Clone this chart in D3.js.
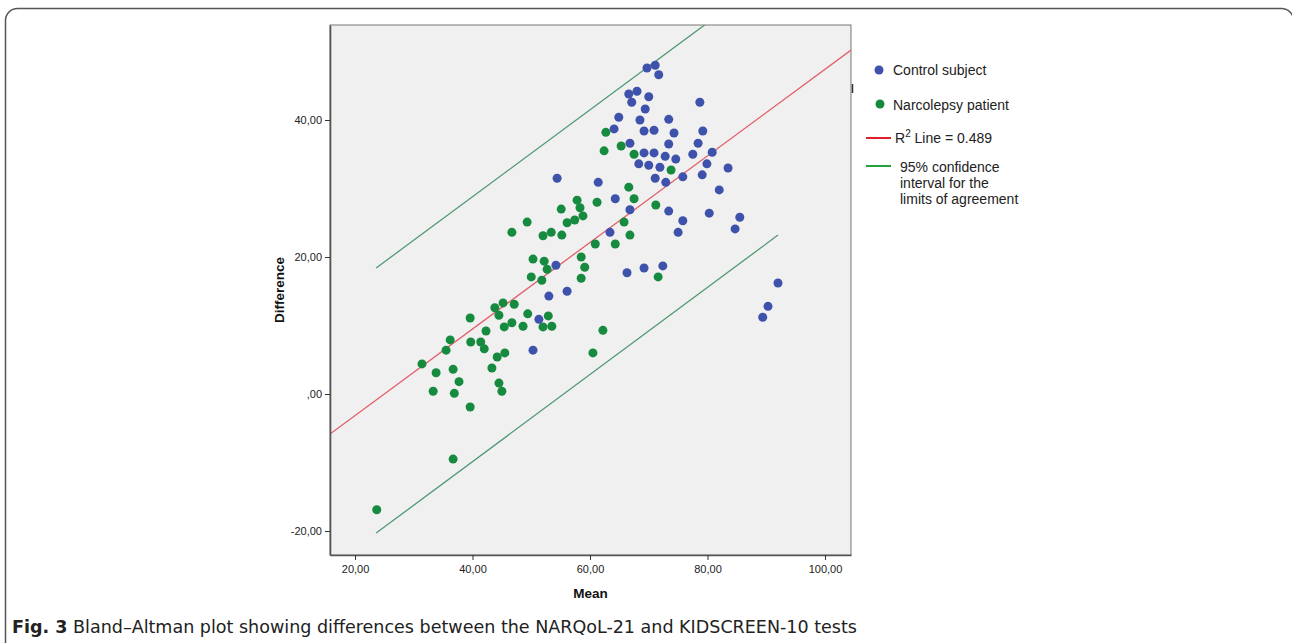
<!doctype html>
<html lang="en">
<head>
  <meta charset="utf-8">
  <title>Bland-Altman plot</title>
  <style>
  body { margin: 0; background: #fff; }
  svg { display: block; }
  .tick text { font-family: "Liberation Sans", Arial, sans-serif; font-size: 11px; fill: #222; }
  .axis-title { font-family: "Liberation Sans", Arial, sans-serif; font-size: 13.5px; font-weight: bold; fill: #111; }
  .legend text { font-family: "Liberation Sans", Arial, sans-serif; font-size: 14px; fill: #222; }
  </style>
</head>
<body>
  <div id="chart"></div>
  <script src="https://cdn.jsdelivr.net/npm/d3@7"></script>
  <script>
    // values: mean (x) and difference (y)
    var controlMean = [50.3, 51.3, 53.0, 56.1, 54.2, 54.4, 61.4, 63.4, 64.3, 66.8, 66.3, 69.2, 72.4,
      69.7, 71.1, 71.7, 66.6, 68.0, 67.1, 70.0, 78.7, 69.4, 64.9, 68.5, 73.4, 64.1, 69.2, 70.9, 74.3,
      79.2, 66.8, 73.4, 78.4, 69.2, 70.9, 72.8, 74.6, 77.5, 80.8, 68.3, 70.0, 71.9, 79.9, 83.5, 71.1,
      72.9, 75.8, 79.1, 82.0, 73.4, 80.3, 85.5, 75.8, 75.0, 84.7, 92.0, 90.3, 89.4];
    var controlDiff = [6.4, 10.9, 14.3, 15.0, 18.8, 31.5, 30.9, 23.6, 28.5, 26.9, 17.7, 18.4, 18.7,
      47.6, 48.0, 46.6, 43.8, 44.2, 42.6, 43.4, 42.6, 41.6, 40.4, 40.0, 40.1, 38.7, 38.4, 38.5, 38.1,
      38.4, 36.6, 36.5, 36.6, 35.2, 35.2, 34.7, 34.3, 35.0, 35.3, 33.6, 33.4, 33.1, 33.6, 33.0, 31.5,
      30.9, 31.7, 32.0, 29.8, 26.7, 26.4, 25.8, 25.3, 23.6, 24.1, 16.2, 12.8, 11.2];

    var patientMean = [23.7, 36.7, 31.4, 33.8, 33.3, 36.7, 36.9, 37.7, 39.6, 35.5, 36.2, 39.7, 41.4,
      42.0, 43.3, 44.2, 45.5, 44.5, 45.0, 39.6, 42.3, 43.8, 45.2, 47.1, 44.5, 49.4, 52.9, 46.7, 48.6,
      45.4, 52.0, 53.5, 62.2, 60.5, 46.7, 49.3, 52.0, 53.4, 55.2, 55.1, 56.1, 57.4, 58.8, 57.8, 58.3,
      61.2, 50.3, 52.2, 52.7, 50.0, 51.8, 58.5, 59.1, 58.5, 60.9, 64.3, 66.8, 65.8, 66.6, 67.5, 71.2,
      73.8, 62.7, 62.4, 65.3, 67.5, 71.6];
    var patientDiff = [-16.9, -9.5, 4.4, 3.1, 0.4, 3.6, 0.1, 1.8, -1.9, 6.4, 7.9, 7.6, 7.6,
      6.6, 3.8, 5.4, 6.0, 1.6, 0.4, 11.1, 9.2, 12.6, 13.3, 13.1, 11.5, 11.7, 11.4, 10.4, 9.9,
      9.8, 9.8, 9.9, 9.3, 6.0, 23.6, 25.1, 23.1, 23.6, 23.2, 27.0, 25.0, 25.4, 26.0, 28.3, 27.2,
      28.0, 19.7, 19.4, 18.2, 17.1, 16.6, 20.0, 18.5, 16.9, 21.9, 21.9, 23.2, 25.1, 30.2, 28.5, 27.6,
      32.7, 38.2, 35.5, 36.2, 35.0, 17.1];

    // fit line and limits of agreement (end points)
    var fitX = [15.74, 104.43];
    var fitY = [-5.84, 50.2];
    var loaX = [23.6, 92.0];
    var upperY = [18.4, 61.8];
    var lowerY = [-20.3, 23.2];

    var xTicks = [20, 40, 60, 80, 100];
    var yTicks = [-20, 0, 20, 40];
    var legendLabels = ["Control subject", "Narcolepsy patient", "R2 Line = 0.489",
      ["95% confidence", "interval for the", "limits of agreement"]];

    var width = 1292, height = 643;
    var plot = {left: 330, right: 851, top: 25, bottom: 555};

    var svg = d3.select("#chart").append("svg")
      .attr("width", width)
      .attr("height", height);

    // outer frame (right edge just past the window border)
    svg.append("rect")
      .attr("x", 5.5).attr("y", 8.5)
      .attr("width", 1288).attr("height", 700)
      .attr("rx", 12).attr("ry", 12)
      .attr("fill", "none")
      .attr("stroke", "#555")
      .attr("stroke-width", 1.5);

    var x = d3.scaleLinear().domain([15.74, 104.43]).range([plot.left, plot.right]);
    var y = d3.scaleLinear().domain([-23.5, 53.87]).range([plot.bottom, plot.top]);

    svg.append("rect")
      .attr("x", plot.left).attr("y", plot.top)
      .attr("width", plot.right - plot.left)
      .attr("height", plot.bottom - plot.top)
      .attr("fill", "#f0f0f0")
      .attr("stroke", "#777")
      .attr("stroke-width", 1);

    svg.append("clipPath").attr("id", "clip")
      .append("rect")
      .attr("x", plot.left).attr("y", plot.top)
      .attr("width", plot.right - plot.left)
      .attr("height", plot.bottom - plot.top);

    var g = svg.append("g").attr("clip-path", "url(#clip)");

    var line = d3.line().x(function(d) { return x(d[0]); }).y(function(d) { return y(d[1]); });

    g.append("path")
      .attr("d", line(d3.zip(fitX, fitY)))
      .attr("stroke", "#e2606c").attr("stroke-width", 1.3).attr("fill", "none");
    g.append("path")
      .attr("d", line(d3.zip(loaX, upperY)))
      .attr("stroke", "#4f9a72").attr("stroke-width", 1.3).attr("fill", "none");
    g.append("path")
      .attr("d", line(d3.zip(loaX, lowerY)))
      .attr("stroke", "#4f9a72").attr("stroke-width", 1.3).attr("fill", "none");

    g.selectAll("circle.patient")
      .data(d3.zip(patientMean, patientDiff))
      .enter().append("circle")
      .attr("class", "patient")
      .attr("cx", function(d) { return x(d[0]); })
      .attr("cy", function(d) { return y(d[1]); })
      .attr("r", 4.5)
      .attr("fill", "#168a3e");

    g.selectAll("circle.control")
      .data(d3.zip(controlMean, controlDiff))
      .enter().append("circle")
      .attr("class", "control")
      .attr("cx", function(d) { return x(d[0]); })
      .attr("cy", function(d) { return y(d[1]); })
      .attr("r", 4.5)
      .attr("fill", "#3f52ab");

    // SPSS style labels: comma decimal, plain hyphen, ",00" for zero
    var fmt = function(d) {
      if (d === 0) return ",00";
      return d.toFixed(2).replace(".", ",");
    };

    var xAxis = svg.append("g")
      .attr("transform", "translate(0," + plot.bottom + ")")
      .call(d3.axisBottom(x).tickValues(xTicks).tickSize(5).tickSizeOuter(0).tickPadding(5).tickFormat(fmt));
    var yAxis = svg.append("g")
      .attr("transform", "translate(" + plot.left + ",0)")
      .call(d3.axisLeft(y).tickValues(yTicks).tickSize(5).tickSizeOuter(0).tickPadding(3).tickFormat(fmt));

    [xAxis, yAxis].forEach(function(a) {
      a.select(".domain").attr("stroke", "#555").attr("stroke-width", 1.6);
      a.selectAll(".tick line").attr("stroke", "#333");
    });

    svg.append("text").attr("class", "axis-title")
      .attr("x", (plot.left + plot.right) / 2).attr("y", 598)
      .attr("text-anchor", "middle").text("Mean");
    svg.append("text").attr("class", "axis-title")
      .attr("transform", "translate(284," + (plot.top + plot.bottom) / 2 + ") rotate(-90)")
      .attr("text-anchor", "middle").text("Difference");

    // small clipped legend remnant next to the plot edge
    svg.append("line")
      .attr("x1", 852.5).attr("x2", 852.5).attr("y1", 84).attr("y2", 93)
      .attr("stroke", "#333").attr("stroke-width", 1.5);

    // legend
    var lg = svg.append("g").attr("class", "legend");
    lg.append("circle").attr("cx", 879).attr("cy", 70).attr("r", 4.5).attr("fill", "#3f52ab");
    lg.append("text").attr("x", 893).attr("y", 75).text(legendLabels[0]);
    lg.append("circle").attr("cx", 880).attr("cy", 104).attr("r", 4.5).attr("fill", "#168a3e");
    lg.append("text").attr("x", 893).attr("y", 110).text(legendLabels[1]);
    lg.append("line").attr("x1", 866).attr("x2", 891).attr("y1", 138).attr("y2", 138)
      .attr("stroke", "#e2202c").attr("stroke-width", 2);
    var r2 = lg.append("text").attr("x", 895).attr("y", 143);
    r2.append("tspan").text("R");
    r2.append("tspan").attr("font-size", "10px").attr("dy", -6).text("2");
    r2.append("tspan").attr("dy", 6).text(legendLabels[2].slice(2));
    lg.append("line").attr("x1", 866).attr("x2", 891).attr("y1", 166).attr("y2", 166)
      .attr("stroke", "#24a33c").attr("stroke-width", 2);
    legendLabels[3].forEach(function(t, i) {
      lg.append("text").attr("x", 900).attr("y", 172 + i * 16).text(t);
    });

    // caption
    var cap = svg.append("text")
      .attr("x", 12).attr("y", 633)
      .attr("font-family", "'Liberation Sans Narrow', 'DejaVu Sans Condensed', 'Open Sans', sans-serif")
      .attr("font-size", "18px")
      .attr("fill", "#222")
      .attr("textLength", 845)
      .attr("lengthAdjust", "spacingAndGlyphs");
    cap.append("tspan").attr("font-weight", "bold").text("Fig. 3");
    cap.append("tspan").text(" Bland\u2013Altman plot showing differences between the NARQoL-21 and KIDSCREEN-10 tests");
  </script>
</body>
</html>
